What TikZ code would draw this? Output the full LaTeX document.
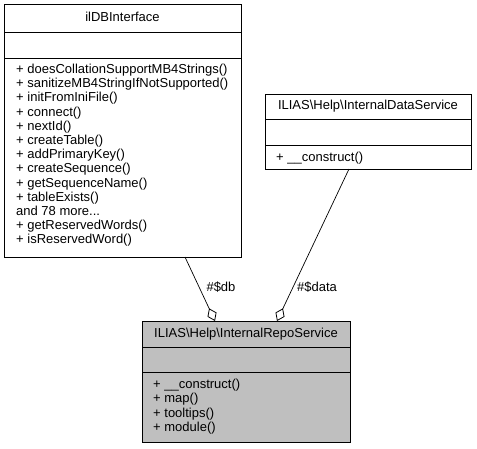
\documentclass[tikz,border=0pt]{standalone}
\usepackage{fontspec}
\setmainfont{Liberation Sans}
\usetikzlibrary{arrows.meta}
\definecolor{boxgray}{HTML}{BFBFBF}
\tikzset{
  classbox/.style={draw=black, line width=0.9pt, inner sep=0pt, anchor=north west},
  divline/.style={draw=black, line width=0.9pt},
  txt/.style={inner sep=0pt, font=\fontsize{13}{13.4}\selectfont, text height=9pt, text depth=3pt},
  mem/.style={txt, anchor=west},
  agg/.style={draw=black, line width=0.7pt, -{Diamond[open, length=14pt, width=10pt, line width=0.8pt]}},
  lbl/.style={txt, anchor=center}
}
\begin{document}
\begin{tikzpicture}[x=1pt, y=-1pt]
\useasboundingbox (0,0) rectangle (477,448);
% ilDBInterface
\node[classbox, minimum width=237pt, minimum height=253pt] (db) at (4,4) {};
\draw[divline] (4,32) -- (241,32);
\draw[divline] (4,58) -- (241,58);
\node[lbl] (dbt) at (122.5,18.5) {ilDBInterface};
\foreach \t [count=\i] in {{+ doesCollationSupportMB4Strings()}, {+ sanitizeMB4StringIfNotSupported()}, {+ initFromIniFile()}, {+ connect()}, {+ nextId()}, {+ createTable()}, {+ addPrimaryKey()}, {+ createSequence()}, {+ getSequenceName()}, {+ tableExists()}, {and 78 more\char46\char46\char46}, {+ getReservedWords()}, {+ isReservedWord()}}
  \node[mem] (dbm\i) at (16,{70.5+14.2*(\i-1)}) {\t};
% InternalDataService
\node[classbox, minimum width=206pt, minimum height=75pt] (ds) at (265,94) {};
\draw[divline] (265,119) -- (471,119);
\draw[divline] (265,145) -- (471,145);
\node[lbl] (dst) at (368,106.5) {ILIAS\textbackslash Help\textbackslash InternalDataService};
\node[mem] (dsm1) at (276,158) {+ \_\_construct()};
% InternalRepoService
\node[classbox, fill=boxgray, minimum width=208pt, minimum height=121pt] (rs) at (142,321) {};
\draw[divline] (142,347) -- (350,347);
\draw[divline] (142,372) -- (350,372);
\node[lbl] (rst) at (246,334) {ILIAS\textbackslash Help\textbackslash InternalRepoService};
\foreach \t [count=\i] in {{+ \_\_construct()}, {+ map()}, {+ tooltips()}, {+ module()}}
  \node[mem] (rsm\i) at (153,{385.5+14.4*(\i-1)}) {\t};
% connectors
\coordinate (dbs) at (185,257);
\coordinate (dbe) at (215,321);
\coordinate (dss) at (349,169);
\coordinate (dse) at (277,321);
\draw[agg] (dbs) -- (dbe);
\draw[agg] (dss) -- (dse);
\node[lbl] (l1) at (221,288) {\#\$db};
\node[lbl] (l2) at (317,288) {\#\$data};
\end{tikzpicture}
\end{document}
